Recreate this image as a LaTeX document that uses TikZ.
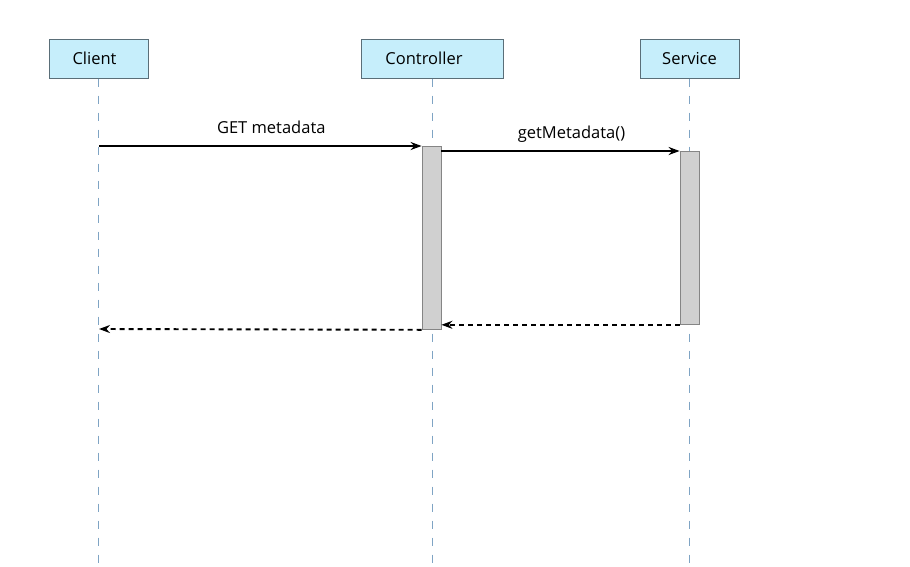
\documentclass[tikz,border=0pt]{standalone}
\usepackage{fontspec}
\setmainfont{Open Sans}
\usetikzlibrary{arrows.meta}
\definecolor{headfill}{HTML}{C6EEFB}
\definecolor{headdraw}{HTML}{5A6E78}
\definecolor{lifecol}{HTML}{7FA4C4}
\definecolor{actfill}{HTML}{D0D0D0}
\definecolor{actdraw}{HTML}{858585}
\begin{document}
\begin{tikzpicture}[x=1pt,y=-1pt,
  head/.style={draw=headdraw,fill=headfill,line width=1pt,minimum height=39pt,inner sep=0pt,font=\fontsize{16.5}{19}\selectfont},
  life/.style={lifecol,line width=0.8pt,dash pattern=on 8pt off 9pt},
  act/.style={draw=actdraw,fill=actfill,line width=0.8pt},
  msg/.style={line width=1.9pt,-{Stealth[length=11pt,width=8pt]}},
  ret/.style={msg,dash pattern=on 5pt off 4pt},
  lbl/.style={font=\fontsize{16.5}{19}\selectfont,inner sep=0pt,anchor=base,yshift=13pt,xshift=11pt}]
\useasboundingbox (0,0) rectangle (910,566);
\fill[white] (0,0) rectangle (910,566);
\node[head,minimum width=99pt,text width=99pt,align=center] (client) at (98.5,58.5) {\hspace*{-8pt}Client};
\node[head,minimum width=142pt,text width=142pt,align=center] (ctrl) at (432,58.5) {\hspace*{-16pt}Controller};
\node[head,minimum width=99pt] (svc) at (689.5,58.5) {Service};
\coordinate (cend) at (98.5,566);
\coordinate (kend) at (432,566);
\coordinate (send) at (689.5,566);
\draw[life] (client.south) -- (cend);
\draw[life] (ctrl.south) -- (kend);
\draw[life] (svc.south) -- (send);
\node[act,minimum width=19pt,minimum height=183pt,inner sep=0pt,anchor=north] (actc) at (431.5,146) {};
\node[act,minimum width=19pt,minimum height=173pt,inner sep=0pt,anchor=north] (acts) at (689.5,151) {};
\coordinate (c1) at (99,146);
\coordinate (c2) at (99,329);
\draw[msg] (c1) -- (actc.north west) node[lbl,midway] {GET metadata};
\draw[msg] (actc.north east |- acts.north) -- (acts.north west) node[lbl,midway] {getMetadata()};
\draw[ret] (acts.south west) -- (actc.east |- acts.south);
\draw[ret] (actc.south west) -- (c2);
\end{tikzpicture}
\end{document}
